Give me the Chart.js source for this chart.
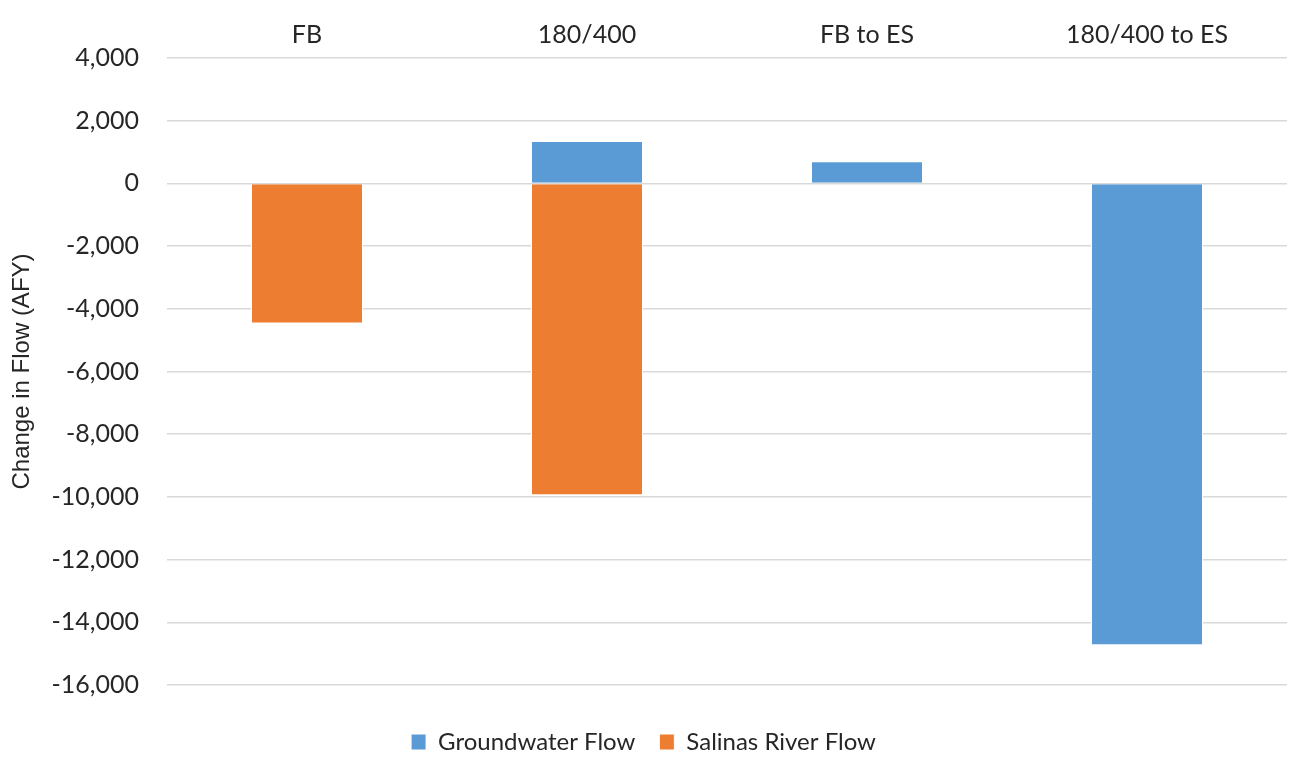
<!DOCTYPE html>
<html>
<head>
<meta charset="utf-8">
<script src="https://cdn.jsdelivr.net/npm/chart.js@4"></script>
<style>
html,body{margin:0;padding:0;background:#fff;}
#wrap{width:1293px;height:757px;position:relative;}
</style>
</head>
<body>
<div id="wrap"><canvas id="c" width="1293" height="757"></canvas></div>
<script>
const categories = ["FB", "180/400", "FB to ES", "180/400 to ES"];
const groundwaterFlow = [null, 1350, 710, -14730];
const salinasRiverFlow = [-4470, -9950, null, null];
const yTickValues = [4000, 2000, 0, -2000, -4000, -6000, -8000, -10000, -12000, -14000, -16000];
const seriesNames = ["Groundwater Flow", "Salinas River Flow"];
const yAxisTitle = "Change in Flow (AFY)";

const FONT = "Lato, 'Open Sans', sans-serif";
const TEXT = "#262626";

new Chart(document.getElementById('c'), {
  type: 'bar',
  data: {
    labels: categories,
    datasets: [
      { label: seriesNames[0], data: groundwaterFlow, backgroundColor: '#5B9BD5', borderColor: '#ffffff', borderWidth: 1, categoryPercentage: 1, barPercentage: 0.4 },
      { label: seriesNames[1], data: salinasRiverFlow, backgroundColor: '#ED7D31', borderColor: '#ffffff', borderWidth: 1, categoryPercentage: 1, barPercentage: 0.4 }
    ]
  },
  options: {
    responsive: false,
    animation: false,
    devicePixelRatio: 1,
    layout: { padding: { left: 0, right: 6, top: 0, bottom: -7 } },
    plugins: {
      legend: {
        position: 'bottom',
        labels: { font: { family: FONT, size: 24 }, color: TEXT, boxWidth: 15, boxHeight: 16, padding: 24 }
      },
      tooltip: { enabled: false }
    },
    scales: {
      x: {
        position: 'top',
        stacked: true,
        grid: { display: false },
        border: { display: false },
        ticks: { font: { family: FONT, size: 25 }, color: TEXT, padding: 0 },
        afterFit: (s) => { s.height = 58; }
      },
      gap: {
        type: 'category',
        position: 'bottom',
        grid: { display: false },
        border: { display: false },
        ticks: { display: false },
        afterFit: (s) => { s.height = 21; }
      },
      y: {
        stacked: true,
        min: -16000,
        max: 4000,
        afterBuildTicks: (s) => { s.ticks = yTickValues.map(v => ({ value: v })); },
        grid: { color: '#D9D9D9', lineWidth: 1.5, drawTicks: false },
        border: { display: false },
        ticks: {
          font: { family: FONT, size: 25 }, color: TEXT, padding: 28,
          callback: (v) => Number(v).toLocaleString('en-US')
        },
        title: { display: true, text: yAxisTitle, font: { family: "'Liberation Sans', Arial, sans-serif", size: 24 }, color: TEXT, padding: { top: 8, bottom: 0 } },
        afterFit: (s) => { s.width = 167; }
      }
    }
  }
});
</script>
</body>
</html>
